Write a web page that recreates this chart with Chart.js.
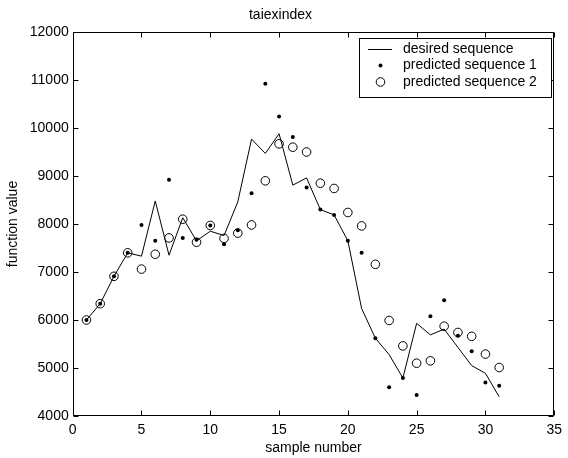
<!DOCTYPE html>
<html>
<head>
<meta charset="utf-8">
<script src="https://cdn.jsdelivr.net/npm/chart.js@4/dist/chart.umd.min.js"></script>
<style>
html,body{margin:0;padding:0;background:#fff;}
canvas{display:block;}
</style>
</head>
<body>
<canvas id="c" width="568" height="458" style="width:568px;height:458px"></canvas>
<script>
const samples = [1,2,3,4,5,6,7,8,9,10,11,12,13,14,15,16,17,18,19,20,21,22,23,24,25,26,27,28,29,30,31];
const desired = [6000,6340,6910,7400,7330,8480,7350,8130,7650,7850,7760,8460,9770,9470,9880,8810,8960,8300,8190,7650,6240,5620,5280,4790,5930,5690,5810,5430,5050,4890,4400];
const predicted1 = [6000,6340,6910,7400,7980,7650,8920,7710,7670,7970,7580,7870,8640,10920,10240,9810,8760,8300,8190,7650,7400,5620,4600,4790,4440,6080,6410,5670,5350,4700,4630];
const predicted2 = [6000,6340,6910,7400,7060,7370,7710,8100,7620,7970,7700,7810,7980,8900,9670,9600,9500,8850,8740,8240,7960,7160,5990,5460,5100,5150,5870,5740,5660,5290,5010];
const xTicks = [0,5,10,15,20,25,30,35];
const yTicks = [4000,5000,6000,7000,8000,9000,10000,11000,12000];
const seriesNames = ['desired sequence','predicted sequence 1','predicted sequence 2'];
const titleText = 'taiexindex';
const xTitle = 'sample number';
const yTitle = 'function value';

const FONT = "'Liberation Sans', Arial, Helvetica, sans-serif";
Chart.defaults.font.family = FONT;
Chart.defaults.font.size = 14;
Chart.defaults.color = '#000';

const toPts = arr => samples.map((s,i)=>({x:s,y:arr[i]}));

const framePlugin = {
  id:'frame',
  afterDraw(chart){
    const ctx = chart.ctx;
    const a = chart.chartArea;
    const xs = chart.scales.x, ys = chart.scales.y;
    const L = Math.round(a.left)+0.5, R = Math.round(a.right)-0.5, T = Math.round(a.top)+0.5, B = Math.round(a.bottom)-0.5;
    ctx.save();
    ctx.strokeStyle = '#000';
    ctx.lineWidth = 1;
    ctx.beginPath();
    ctx.rect(L, T, R-L, B-T);
    ctx.stroke();
    const tl = 5;
    ctx.beginPath();
    xTicks.forEach(v=>{
      const p = Math.round(xs.getPixelForValue(v))+0.5;
      ctx.moveTo(p,B); ctx.lineTo(p,B-tl);
      ctx.moveTo(p,T); ctx.lineTo(p,T+tl);
    });
    yTicks.forEach(v=>{
      const p = Math.round(ys.getPixelForValue(v))+0.5;
      ctx.moveTo(L,p); ctx.lineTo(L+tl,p);
      ctx.moveTo(R,p); ctx.lineTo(R-tl,p);
    });
    ctx.stroke();

    // legend
    const bx = 359.5, by = 38.5, bw = 192, bh = 59;
    ctx.fillStyle = '#fff';
    ctx.fillRect(bx, by, bw, bh);
    ctx.strokeRect(bx, by, bw, bh);
    const rows = [49, 65.5, 82];
    const sx = 380, tx = 403;
    ctx.beginPath();
    ctx.moveTo(368, rows[0]+0.5); ctx.lineTo(392, rows[0]+0.5);
    ctx.stroke();
    ctx.fillStyle = '#000';
    ctx.beginPath();
    ctx.arc(sx+0.5, rows[1], 2, 0, Math.PI*2);
    ctx.fill();
    ctx.beginPath();
    ctx.arc(sx+0.5, rows[2], 4.3, 0, Math.PI*2);
    ctx.stroke();
    ctx.font = '14px ' + FONT;
    ctx.textBaseline = 'middle';
    ctx.textAlign = 'left';
    seriesNames.forEach((n,i)=>ctx.fillText(n, tx, rows[i]));
    ctx.restore();
  }
};

new Chart(document.getElementById('c'), {
  type:'scatter',
  data:{
    datasets:[
      {label:seriesNames[0], type:'line', data:toPts(desired), borderColor:'#000', borderWidth:1, pointRadius:0, tension:0, fill:false, order:3},
      {label:seriesNames[1], data:toPts(predicted1), pointRadius:2, pointBackgroundColor:'#000', pointBorderColor:'#000', pointBorderWidth:0, showLine:false, order:2},
      {label:seriesNames[2], data:toPts(predicted2), pointRadius:4.3, pointBackgroundColor:'rgba(0,0,0,0)', pointBorderColor:'#000', pointBorderWidth:1, showLine:false, order:1}
    ]
  },
  options:{
    responsive:false,
    devicePixelRatio:1,
    animation:false,
    layout:{padding:{left:0,right:7,top:0,bottom:0}},
    plugins:{
      legend:{display:false},
      tooltip:{enabled:false},
      title:{display:true, text:titleText, color:'#000', font:{size:14, weight:'normal'}, padding:{top:7,bottom:8.2}}
    },
    scales:{
      x:{
        type:'linear', min:0, max:35,
        ticks:{stepSize:5, padding:6, color:'#000', font:{size:14}, maxRotation:0, callback:v=>String(v)},
        grid:{display:false, drawTicks:false},
        border:{display:false},
        title:{display:true, text:xTitle, color:'#000', font:{size:14}, padding:{top:1,bottom:1}},
        afterFit(s){ s.height = 42; }
      },
      y:{
        type:'linear', min:4000, max:12000,
        ticks:{stepSize:1000, padding:4, color:'#000', font:{size:14}, callback:v=>String(v)},
        grid:{display:false, drawTicks:false},
        border:{display:false},
        title:{display:true, text:yTitle, color:'#000', font:{size:14}, padding:{top:5,bottom:0}},
        afterFit(s){ s.width = 72.7; }
      }
    }
  },
  plugins:[framePlugin]
});
</script>
</body>
</html>
